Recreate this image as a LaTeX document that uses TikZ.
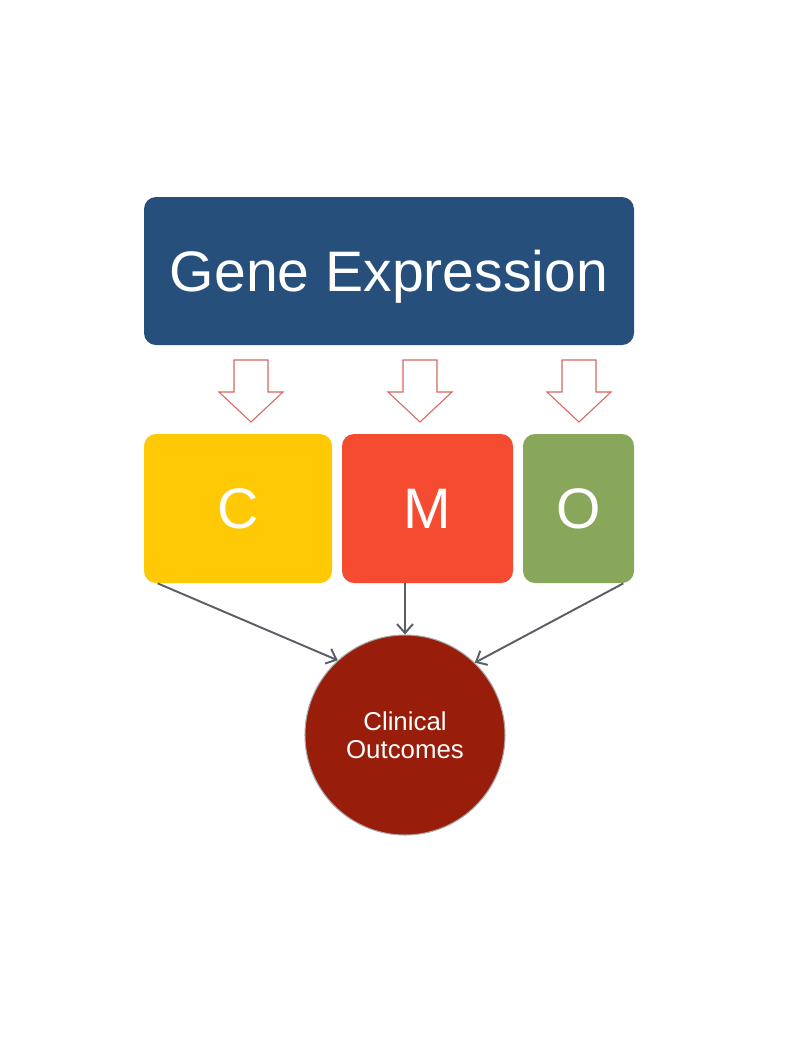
\documentclass[tikz,border=0pt]{standalone}
\usepackage{fontspec}
\setmainfont{Liberation Sans}
\usetikzlibrary{arrows.meta}
\definecolor{genec}{HTML}{26507B}
\definecolor{cc}{HTML}{FFCA05}
\definecolor{mc}{HTML}{F54B31}
\definecolor{oc}{HTML}{88A75B}
\definecolor{outc}{HTML}{981D0B}
\definecolor{hollowc}{HTML}{D8665E}
\definecolor{linkc}{HTML}{5A5F66}

\tikzset{
  box/.style={rounded corners=0.24cm, minimum height=2.98cm, inner sep=0pt,
    text=white, text depth=0pt, font=\fontsize{32.5}{36}\selectfont},
  link/.style={draw=linkc, line width=1.1pt,
    -{Straight Barb[length=1.8mm,width=3.2mm,line width=1.1pt]}},
}

\begin{document}
\begin{tikzpicture}[x=1cm,y=1cm]
  \useasboundingbox (0,0) rectangle (16,-20.74);
  \fill[white] (0,0) rectangle (16,-20.74);

  % ==========================================================
  %                     PARAMETERS
  % ==========================================================
  \def\shaftHalf{0.34}      % half width of the hollow arrow shaft
  \def\headHalf{0.64}       % half width of the hollow arrow head
  \def\shaftTop{-7.20}
  \def\headBase{-7.84}
  \def\headTip{-8.44}

  % ==========================================================
  %                     NODES
  % ==========================================================
  \node[box, fill=genec, minimum width=9.8cm, minimum height=2.96cm]
    (gene) at (7.78,-5.42) {Gene Expression};

  \node[box, fill=cc, minimum width=3.76cm] (cbox) at (4.76,-10.17) {C};
  \node[box, fill=mc, minimum width=3.42cm] (mbox) at (8.55,-10.17) {M};
  \node[box, fill=oc, minimum width=2.22cm] (obox) at (11.57,-10.17) {O};

  \node[circle, fill=outc, draw=gray!70, line width=0.6pt,
        minimum size=4cm, inner sep=0pt, text=white, align=center,
        font=\fontsize{14.7}{16}\selectfont]
    (out) at (8.1,-14.7) {Clinical\\Outcomes};

  % ==========================================================
  %                     HOLLOW ARROWS
  % ==========================================================
  \foreach \ax in {5.02,8.40,11.58} {
    \draw[hollowc, line width=0.6pt, line join=miter, fill=white]
      (\ax-\shaftHalf,\shaftTop) -- (\ax+\shaftHalf,\shaftTop)
      -- (\ax+\shaftHalf,\headBase) -- (\ax+\headHalf,\headBase)
      -- (\ax,\headTip) -- (\ax-\headHalf,\headBase)
      -- (\ax-\shaftHalf,\headBase) -- cycle;
  }

  % ==========================================================
  %                     LINKS
  % ==========================================================
  \draw[link] ([xshift=0.28cm]cbox.south west) -- (out.132);
  \draw[link] (mbox.south -| out.north) -- (out.north);
  \draw[link] ([xshift=-0.22cm]obox.south east) -- (out.46);

\end{tikzpicture}
\end{document}
